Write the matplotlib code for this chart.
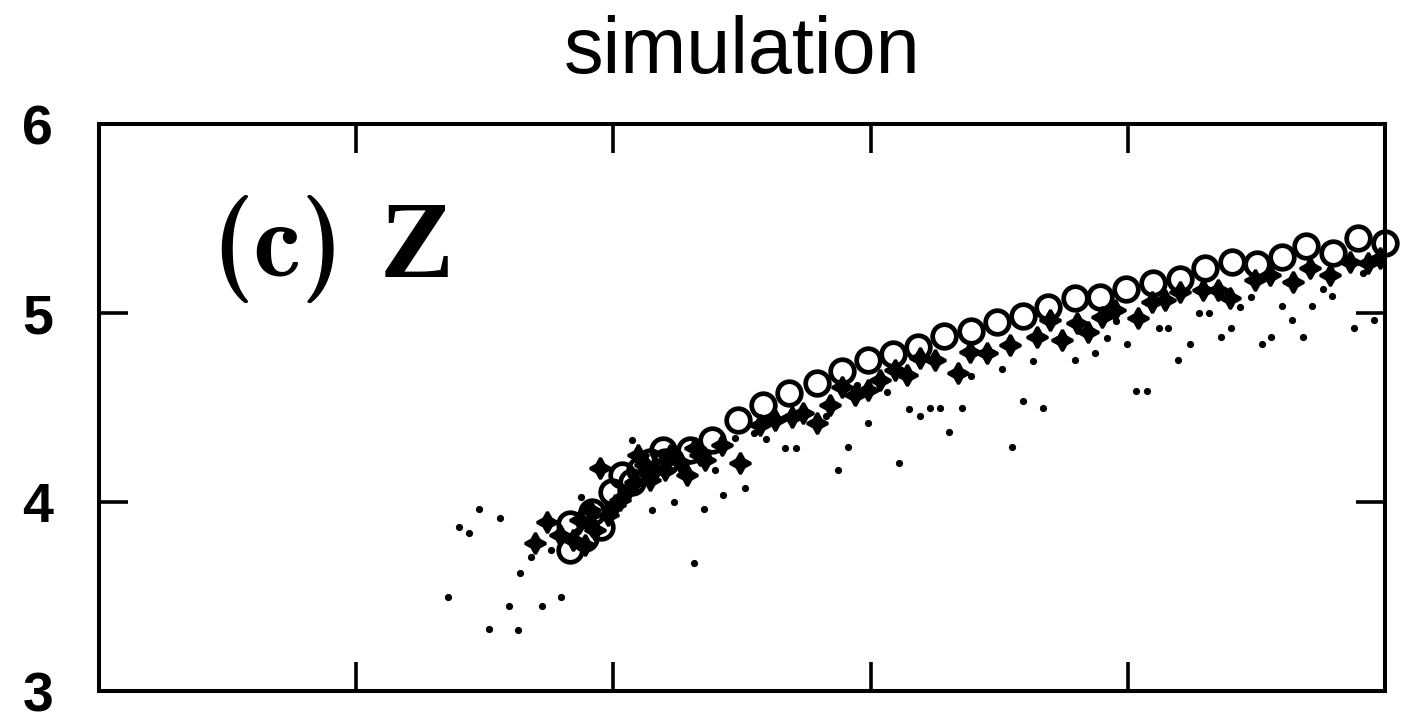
import matplotlib.pyplot as plt

# open circles: main sequence
circle_x = [1.831, 1.831, 1.890, 1.917, 1.952, 1.995, 2.033, 2.072, 2.103, 2.142,
            2.193, 2.201, 2.298, 2.383, 2.484, 2.582, 2.683, 2.792, 2.889, 2.990,
            3.087, 3.184, 3.285, 3.390, 3.491, 3.593, 3.690, 3.795, 3.892, 3.993,
            4.098, 4.203, 4.300, 4.405, 4.502, 4.600, 4.693, 4.798, 4.895, 5.000]
circle_y = [3.746, 3.884, 3.810, 3.947, 3.868, 4.053, 4.143, 4.106, 4.169, 4.212,
            4.275, 4.212, 4.275, 4.328, 4.434, 4.513, 4.577, 4.630, 4.693, 4.751,
            4.783, 4.820, 4.878, 4.905, 4.952, 4.984, 5.032, 5.079, 5.085, 5.127,
            5.159, 5.180, 5.238, 5.270, 5.259, 5.296, 5.354, 5.317, 5.397, 5.370]

# four-pointed stars
star_x = [1.695, 1.742, 1.792, 1.843, 1.870, 1.890, 1.909, 1.928, 1.948, 1.979,
          2.006, 2.026, 2.057, 2.084, 2.096, 2.123, 2.142, 2.162, 2.201, 2.220,
          2.259, 2.286, 2.317, 2.337, 2.356, 2.422, 2.492, 2.570, 2.628, 2.694,
          2.737, 2.792, 2.842, 2.889, 2.939, 2.990, 3.037, 3.095, 3.142, 3.192,
          3.250, 3.340, 3.386, 3.453, 3.542, 3.647, 3.697, 3.744, 3.802, 3.845,
          3.900, 3.950, 4.040, 4.094, 4.145, 4.203, 4.292, 4.351, 4.397, 4.495,
          4.553, 4.642, 4.708, 4.786, 4.864, 4.934, 4.981]
star_y = [3.783, 3.894, 3.825, 3.799, 3.905, 3.772, 3.958, 3.852, 4.180, 3.931,
          3.984, 4.011, 4.063, 4.106, 4.249, 4.196, 4.116, 4.169, 4.169, 4.249,
          4.212, 4.143, 4.286, 4.249, 4.222, 4.302, 4.206, 4.407, 4.434, 4.450,
          4.471, 4.418, 4.513, 4.608, 4.566, 4.593, 4.646, 4.698, 4.672, 4.762,
          4.751, 4.683, 4.794, 4.788, 4.831, 4.873, 4.963, 4.857, 4.947, 4.899,
          4.979, 5.016, 4.974, 5.058, 5.069, 5.111, 5.122, 5.122, 5.079, 5.175,
          5.201, 5.164, 5.238, 5.201, 5.270, 5.265, 5.291]

# small dots scattered below
dot_x = [1.357, 1.400, 1.439, 1.477, 1.516, 1.559, 1.594, 1.629, 1.637, 1.680,
         1.722, 1.757, 1.796, 1.874, 2.072, 2.150, 2.236, 2.313, 2.352, 2.395,
         2.426, 2.473, 2.512, 2.547, 2.593, 2.667, 2.710, 2.827, 2.873, 2.912,
         2.947, 2.990, 3.064, 3.110, 3.149, 3.192, 3.231, 3.270, 3.305, 3.355,
         3.390, 3.511, 3.550, 3.593, 3.631, 3.670, 3.795, 3.872, 3.919, 3.954,
         3.997, 4.032, 4.075, 4.121, 4.156, 4.195, 4.242, 4.277, 4.316, 4.362,
         4.401, 4.436, 4.479, 4.522, 4.557, 4.600, 4.638, 4.681, 4.716, 4.759,
         4.794, 4.879, 4.914, 4.957]
dot_y = [3.497, 3.868, 3.836, 3.963, 3.328, 3.915, 3.450, 3.323, 3.624, 3.709,
         3.450, 3.746, 3.497, 4.026, 4.328, 3.958, 4.000, 3.677, 3.963, 4.169,
         4.037, 4.339, 4.074, 4.365, 4.333, 4.286, 4.286, 4.455, 4.169, 4.291,
         4.619, 4.418, 4.582, 4.206, 4.492, 4.455, 4.497, 4.497, 4.370, 4.497,
         4.667, 4.704, 4.291, 4.534, 4.746, 4.497, 4.751, 4.788, 4.868, 4.958,
         4.836, 4.587, 4.587, 4.921, 4.921, 4.751, 4.836, 5.000, 5.000, 4.873,
         4.921, 5.032, 5.085, 4.836, 4.873, 5.037, 4.963, 4.873, 5.037, 5.127,
         5.090, 4.921, 5.212, 4.963]

y_ticks = [3, 4, 5, 6]
x_ticks = [1, 2, 3, 4]

fig = plt.figure(figsize=(14.23, 7.21), dpi=100)
ax = fig.add_axes([0.0696, 0.0416, 0.9037, 0.7864])

ax.plot(dot_x, dot_y, "o", color="black", ms=5.2, mew=0, zorder=2)
ax.plot(star_x, star_y, marker=(4, 1, 0), ls="none", color="black",
        ms=15, mew=2.2, zorder=3)
ax.plot(circle_x, circle_y, "o", mfc="none", mec="black", ms=17,
        mew=3.4, zorder=4, clip_on=False)

ax.set_xlim(0, 5)
ax.set_ylim(3, 6)
ax.set_xticks(x_ticks)
ax.set_yticks(y_ticks)
ax.set_xticklabels([])
ax.set_yticklabels([str(t) for t in y_ticks], fontsize=40,
                   fontweight="bold", family="Liberation Sans")
ax.tick_params(direction="in", length=21, width=2.6, top=True, right=True,
               labelbottom=False)
ax.tick_params(axis="y", pad=33)
for spine in ax.spines.values():
    spine.set_linewidth(2.9)

# panel label: "(c)" in Computer Modern bold, "Z" in a wider bold serif
ax.text(0.087, 0.732, "(c)", transform=ax.transAxes, fontsize=78,
        family="cmb10", va="baseline")
ax.text(0.2185, 0.73, "Z", transform=ax.transAxes, fontsize=80,
        fontweight="bold", family="Liberation Serif", va="baseline")
ax.set_title("simulation", fontsize=57, family="Liberation Sans", pad=37)

fig.savefig("out.png", dpi=100)
